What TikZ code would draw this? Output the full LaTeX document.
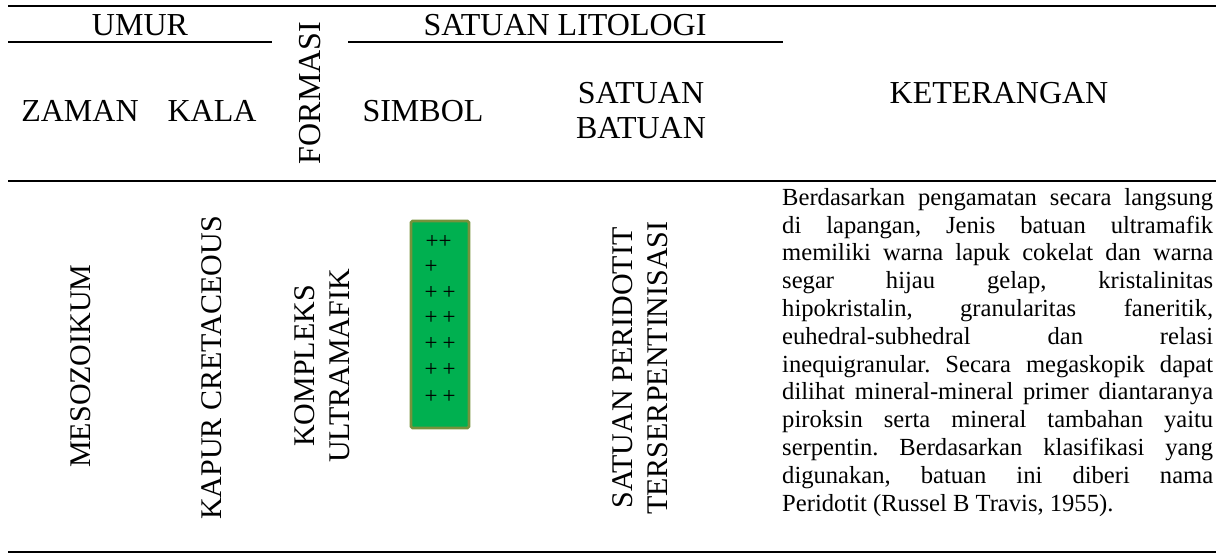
\documentclass[tikz,border=0pt]{standalone}
\usepackage{fontspec}
\setmainfont{Liberation Serif}
\usepackage{tikz}
\usetikzlibrary{positioning}
\definecolor{rockgreen}{RGB}{0,176,80}
\definecolor{rockedge}{RGB}{118,146,60}

\begin{document}
\begin{tikzpicture}[x=1pt, y=-1pt,
    rule/.style={line width=1.8pt, color=black},
    head/.style={font=\fontsize{32}{35}\selectfont, align=center, inner sep=0pt},
    vtext/.style={font=\fontsize{30}{35}\selectfont, align=center, inner sep=0pt, rotate=90},
    plus/.style={font=\fontsize{23}{23}\selectfont, inner sep=0pt}]
    \useasboundingbox (0,0) rectangle (1216,554);
    % rules of the table
    \draw[rule] (8,6) -- (1216,6);
    \draw[rule] (8,42) -- (272,42);
    \draw[rule] (348,42) -- (783,42);
    \draw[rule] (8,181) -- (1216,181);
    \draw[rule] (8,552) -- (1216,552);
    % header
    \node[head] (umur) at (140,25) {UMUR};
    \node[head] (litologi) at (565,25) {SATUAN LITOLOGI};
    \node[head, rotate=90] (formasi) at (310,93) {FORMASI};
    \node[head] (zaman) at (80,111) {ZAMAN};
    \node[head] (kala) at (212,111) {KALA};
    \node[head] (simbol) at (423,111) {SIMBOL};
    \node[head] (satuan) at (641,111) {SATUAN\\BATUAN};
    \node[head] (keterangan) at (999,93) {KETERANGAN};
    % body
    \node[vtext] (mesozoikum) at (81,366) {MESOZOIKUM};
    \node[vtext] (kapur) at (212,368) {KAPUR CRETACEOUS};
    \node[vtext] (kompleks) at (322,366) {KOMPLEKS\\ULTRAMAFIK};
    \node[vtext] (peridotit) at (640,368) {SATUAN PERIDOTIT\\TERSERPENTINISASI};
    % symbol column
    \draw[fill=rockgreen, draw=rockedge, line width=2.6pt, rounded corners=1.5pt]
        (411,221) rectangle (469,428);
    \node[plus] (p1a) at (432,242) {+};
    \node[plus] (p1b) at (445,242) {+};
    \node[plus] (p2a) at (431,267) {+};
    \foreach \y [count=\i from 3] in {293,318,344,370,397} {
        \node[plus] (p\i a) at (431,\y) {+};
        \node[plus] (p\i b) at (449,\y) {+};
    }
    % description
    \node[anchor=north west, inner sep=0pt, text width=431pt, align=justify,
          font=\fontsize{24.6}{27.8}\selectfont\frenchspacing] (uraian) at (782,188)
    {Berdasarkan pengamatan secara langsung\linebreak
     di lapangan, Jenis batuan ultramafik\linebreak
     memiliki warna lapuk cokelat dan warna\linebreak
     segar hijau gelap, kristalinitas\linebreak
     hipokristalin, granularitas faneritik,\linebreak
     euhedral-subhedral dan relasi\linebreak
     inequigranular. Secara megaskopik dapat\linebreak
     dilihat mineral-mineral primer diantaranya\linebreak
     piroksin serta mineral tambahan yaitu\linebreak
     serpentin. Berdasarkan klasifikasi yang\linebreak
     digunakan, batuan ini diberi nama\linebreak
     Peridotit (Russel B Travis, 1955).};
\end{tikzpicture}
\end{document}
